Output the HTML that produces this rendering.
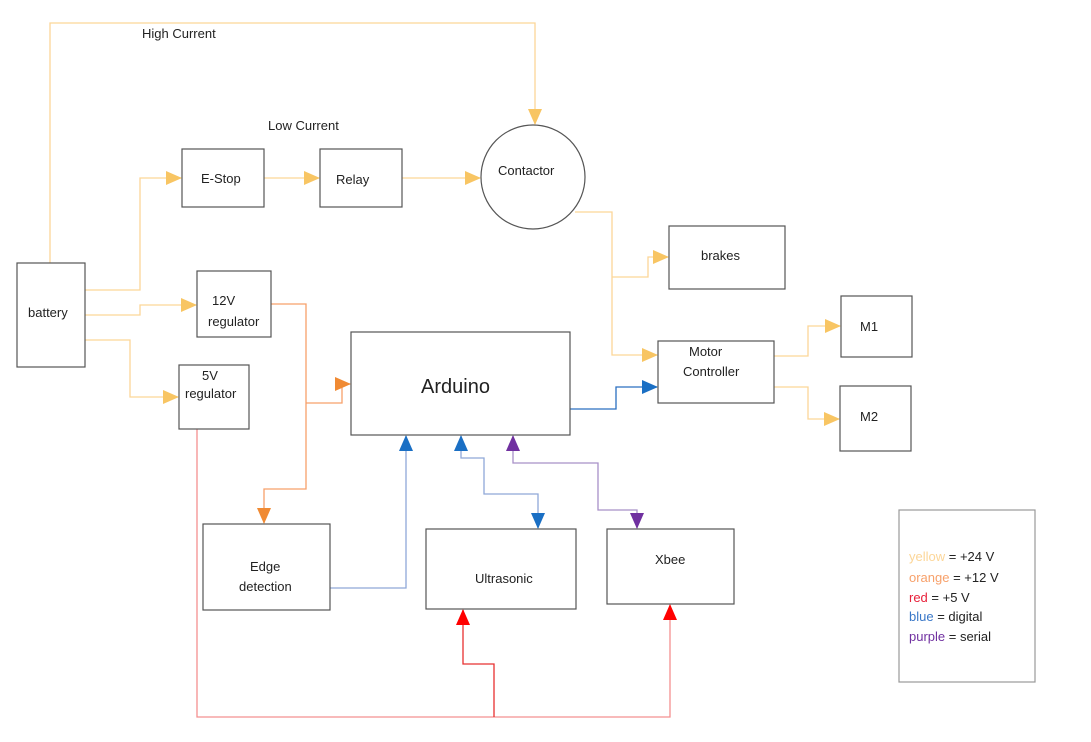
<!DOCTYPE html>
<html><head><style>
html,body{margin:0;padding:0;background:#fff;}
svg{display:block;}
text{font-family:"Liberation Sans",Arial,sans-serif;fill:#222;}
</style></head><body>
<svg width="1091" height="742" viewBox="0 0 1091 742" xmlns="http://www.w3.org/2000/svg">
<defs>
<marker id="ay" markerWidth="16" markerHeight="14" refX="15" refY="7" orient="auto" markerUnits="userSpaceOnUse"><path d="M0,0 L16,7 L0,14 z" fill="#f8c563"/></marker>
<marker id="ao" markerWidth="16" markerHeight="14" refX="15" refY="7" orient="auto" markerUnits="userSpaceOnUse"><path d="M0,0 L16,7 L0,14 z" fill="#f08a33"/></marker>
<marker id="ar" markerWidth="16" markerHeight="14" refX="15" refY="7" orient="auto" markerUnits="userSpaceOnUse"><path d="M0,0 L16,7 L0,14 z" fill="#ff0000"/></marker>
<marker id="ab" markerWidth="16" markerHeight="14" refX="15" refY="7" orient="auto" markerUnits="userSpaceOnUse"><path d="M0,0 L16,7 L0,14 z" fill="#1a6fc4"/></marker>
<marker id="ap" markerWidth="16" markerHeight="14" refX="15" refY="7" orient="auto" markerUnits="userSpaceOnUse"><path d="M0,0 L16,7 L0,14 z" fill="#7030a0"/></marker>
<marker id="sb" markerWidth="16" markerHeight="14" refX="15" refY="7" orient="auto-start-reverse" markerUnits="userSpaceOnUse"><path d="M0,0 L16,7 L0,14 z" fill="#1a6fc4"/></marker>
<marker id="sp" markerWidth="16" markerHeight="14" refX="15" refY="7" orient="auto-start-reverse" markerUnits="userSpaceOnUse"><path d="M0,0 L16,7 L0,14 z" fill="#7030a0"/></marker>
</defs>
<g fill="none" stroke-width="1.3">
<g stroke="#fcd698">
<path d="M50,263 V23 H535 V124" marker-end="url(#ay)"/>
<path d="M85,290 H140 V178 H181" marker-end="url(#ay)"/>
<path d="M264,178 H319" marker-end="url(#ay)"/>
<path d="M402,178 H480" marker-end="url(#ay)"/>
<path d="M85,315 H140 V305 H196" marker-end="url(#ay)"/>
<path d="M85,340 H130 V397 H178" marker-end="url(#ay)"/>
<path d="M575,212 H612 V355 H657" marker-end="url(#ay)"/>
<path d="M612,277 H648 V257 H668" marker-end="url(#ay)"/>
<path d="M774,356 H808 V326 H840" marker-end="url(#ay)"/>
<path d="M774,387 H808 V419 H839" marker-end="url(#ay)"/>
</g>
<g stroke="#f7a06a">
<path d="M271,304 H306 V489 H264 V523" marker-end="url(#ao)"/>
<path d="M306,403 H342 V384 H350" marker-end="url(#ao)"/>
</g>
<g stroke="#f49090">
<path d="M197,429 V717 H670 V605" marker-end="url(#ar)"/>
<path d="M494,717 V664 H463 V610" marker-end="url(#ar)" stroke="#e83030"/>
</g>
<g stroke="#8fa8d8">
<path d="M330,588 H406 V436" marker-end="url(#ab)"/>
<path d="M461,436 V458 H484 V494 H538 V528" marker-start="url(#sb)" marker-end="url(#ab)"/>
<path d="M570,409 H616 V387 H657" marker-end="url(#ab)" stroke="#2a6fc0"/>
</g>
<path d="M513,436 V463 H598 V510 H637 V528" stroke="#a890c8" marker-start="url(#sp)" marker-end="url(#ap)"/>
</g>
<g fill="#fff" stroke="#555" stroke-width="1.2">
<rect x="17" y="263" width="68" height="104"/>
<rect x="182" y="149" width="82" height="58"/>
<rect x="320" y="149" width="82" height="58"/>
<circle cx="533" cy="177" r="52"/>
<rect x="197" y="271" width="74" height="66"/>
<rect x="179" y="365" width="70" height="64"/>
<rect x="351" y="332" width="219" height="103"/>
<rect x="669" y="226" width="116" height="63"/>
<rect x="658" y="341" width="116" height="62"/>
<rect x="841" y="296" width="71" height="61"/>
<rect x="840" y="386" width="71" height="65"/>
<rect x="203" y="524" width="127" height="86"/>
<rect x="426" y="529" width="150" height="80"/>
<rect x="607" y="529" width="127" height="75"/>
<rect x="899" y="510" width="136" height="172" stroke="#999"/>
</g>
<g font-size="13">
<text x="142" y="38">High Current</text>
<text x="268" y="130">Low Current</text>
<text x="28" y="317">battery</text>
<text x="201" y="183">E-Stop</text>
<text x="336" y="184">Relay</text>
<text x="498" y="175">Contactor</text>
<text x="212" y="305">12V</text>
<text x="208" y="326">regulator</text>
<text x="202" y="380">5V</text>
<text x="185" y="398">regulator</text>
<text x="421" y="393" font-size="20">Arduino</text>
<text x="701" y="260">brakes</text>
<text x="689" y="356">Motor</text>
<text x="683" y="376">Controller</text>
<text x="860" y="331">M1</text>
<text x="860" y="421">M2</text>
<text x="250" y="571">Edge</text>
<text x="239" y="591">detection</text>
<text x="475" y="583">Ultrasonic</text>
<text x="655" y="564">Xbee</text>
</g>
<g font-size="13">
<text x="909" y="561"><tspan style="fill:#fcd698">yellow</tspan> = +24 V</text>
<text x="909" y="582"><tspan style="fill:#f7a06a">orange</tspan> = +12 V</text>
<text x="909" y="602"><tspan style="fill:#e8203a">red</tspan> = +5 V</text>
<text x="909" y="621"><tspan style="fill:#3a78c8">blue</tspan> = digital</text>
<text x="909" y="641"><tspan style="fill:#7030a0">purple</tspan> = serial</text>
</g>
</svg>
</body></html>
